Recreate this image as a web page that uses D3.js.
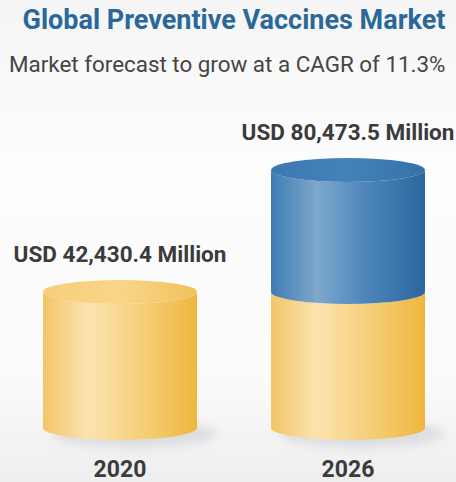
<!DOCTYPE html>
<html>
<head>
<meta charset="utf-8">
<script src="https://cdn.jsdelivr.net/npm/d3@7"></script>
<style>
  html, body { margin: 0; padding: 0; }
  body { width: 456px; height: 482px; overflow: hidden; font-family: Roboto, "Noto Sans", sans-serif; }
</style>
</head>
<body>
<svg id="chart" width="456" height="482"></svg>
<script>
// Market size by year (USD million)
const years = ["2020", "2026"];
const baseValues = [42430.4, 42430.4];      // 2020 market level, carried into 2026
const growthValues = [0, 38043.1];          // added growth up to 2026
const totalLabels = ["USD 42,430.4 Million", "USD 80,473.5 Million"];

const title = "Global Preventive Vaccines Market";
const subtitle = "Market forecast to grow at a CAGR of 11.3%";

const W = 456, H = 482;
const svg = d3.select("#chart");
const defs = svg.append("defs");

// background wash
const bg = defs.append("linearGradient").attr("id", "bg").attr("x1", 0).attr("y1", 0).attr("x2", 0).attr("y2", 1);
bg.append("stop").attr("offset", "0%").attr("stop-color", "#f5f5f5");
bg.append("stop").attr("offset", "35%").attr("stop-color", "#fdfdfd");
bg.append("stop").attr("offset", "80%").attr("stop-color", "#fafafa");
bg.append("stop").attr("offset", "100%").attr("stop-color", "#eeeeee");
svg.append("rect").attr("width", W).attr("height", H).attr("fill", "url(#bg)");

// side shading for cylinder bodies
function sideGradient(id, stops) {
  const g = defs.append("linearGradient").attr("id", id).attr("x1", 0).attr("y1", 0).attr("x2", 1).attr("y2", 0);
  stops.forEach(s => g.append("stop").attr("offset", s[0]).attr("stop-color", s[1]));
}
sideGradient("yellowSide", [["0%", "#f2c668"], ["30%", "#fbe3b0"], ["60%", "#f6d180"], ["100%", "#efb73d"]]);
sideGradient("blueSide", [["0%", "#3f7cb3"], ["30%", "#7ea8cc"], ["60%", "#4f87bb"], ["100%", "#2a679e"]]);
sideGradient("yellowTop", [["0%", "#f6cf78"], ["50%", "#f8d58a"], ["100%", "#f1c25c"]]);
sideGradient("blueTop", [["0%", "#3c79b1"], ["50%", "#4482b9"], ["100%", "#3671a8"]]);

const shadowBlur = defs.append("filter").attr("id", "shadow").attr("x", "-50%").attr("y", "-50%").attr("width", "200%").attr("height", "200%");
shadowBlur.append("feGaussianBlur").attr("stdDeviation", 5);

// scales
const x = d3.scalePoint().domain(years).range([120, 348]);
const y = d3.scaleLinear().domain([0, 80473.5]).range([428, 170]);
const cylW = 154, ry = 12;
const rx = cylW / 2;

// stacked segments
const rows = years.map((yr, i) => ({ year: yr, base: baseValues[i], growth: growthValues[i] }));
const stack = d3.stack().keys(["base", "growth"])(rows);
const sideFill = { base: "url(#yellowSide)", growth: "url(#blueSide)" };
const topFill = { base: "url(#yellowTop)", growth: "url(#blueTop)" };

// cylinder path between two levels: body with elliptical bottom
function bodyPath(cx, yTop, yBot) {
  const l = cx - rx, r = cx + rx;
  return `M${l},${yTop} L${l},${yBot} A${rx},${ry} 0 0,0 ${r},${yBot} L${r},${yTop} A${rx},${ry} 0 0,1 ${l},${yTop} Z`;
}

// floor shadows
svg.append("g").selectAll("ellipse").data(rows).join("ellipse")
  .attr("cx", d => x(d.year) + 14)
  .attr("cy", y(0) + 6)
  .attr("rx", rx + 6)
  .attr("ry", ry + 2)
  .attr("fill", "#c9cdd3")
  .attr("opacity", 0.55)
  .attr("filter", "url(#shadow)");

const layers = svg.append("g").selectAll("g").data(stack).join("g");
layers.each(function (layer) {
  const g = d3.select(this);
  const segs = layer.filter(d => d[1] > d[0]);
  g.selectAll("path.body").data(segs).join("path")
    .attr("class", "body")
    .attr("d", d => bodyPath(x(d.data.year), y(d[1]), y(d[0])))
    .attr("fill", sideFill[layer.key]);
});

// top caps on the highest segment of each cylinder
rows.forEach(r => {
  const key = r.growth > 0 ? "growth" : "base";
  svg.append("ellipse")
    .attr("cx", x(r.year))
    .attr("cy", y(r.base + r.growth))
    .attr("rx", rx)
    .attr("ry", ry)
    .attr("fill", topFill[key]);
});

// value labels
svg.append("g").selectAll("text").data(rows).join("text")
  .attr("x", d => x(d.year))
  .attr("y", d => y(d.base + d.growth) - 30)
  .attr("text-anchor", "middle")
  .attr("font-size", 22.5)
  .attr("font-weight", 700)
  .attr("fill", "#3b3b3b")
  .text((d, i) => totalLabels[i]);

// year labels
svg.append("g").selectAll("text").data(years).join("text")
  .attr("x", d => x(d))
  .attr("y", 477)
  .attr("text-anchor", "middle")
  .attr("font-size", 23)
  .attr("font-weight", 700)
  .attr("fill", "#3b3b3b")
  .text(d => d);

// headings
svg.append("text")
  .attr("x", 234).attr("y", 29)
  .attr("text-anchor", "middle")
  .attr("font-size", 27)
  .attr("font-weight", 700)
  .attr("fill", "#2a6899")
  .text(title);

svg.append("text")
  .attr("x", 9).attr("y", 72)
  .attr("font-size", 22.4)
  .attr("fill", "#454545")
  .text(subtitle);
</script>
</body>
</html>
